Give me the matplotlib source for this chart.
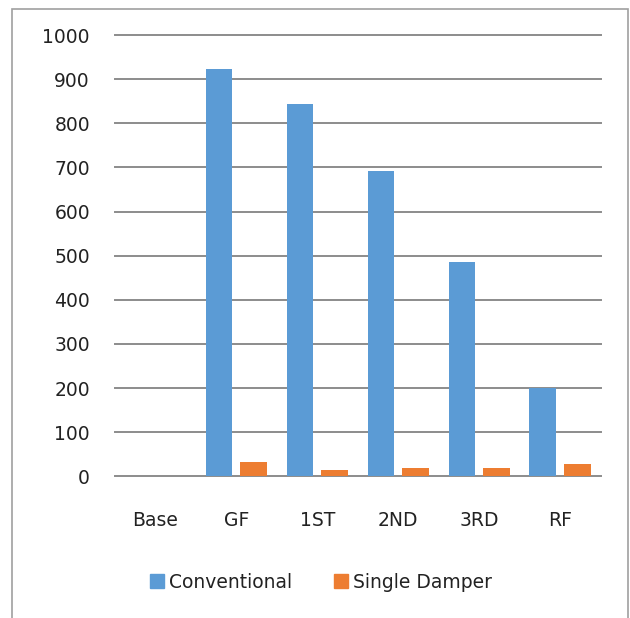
import numpy as np
import matplotlib.pyplot as plt
from matplotlib.patches import Rectangle, Patch

floors = ['Base', 'GF', '1ST', '2ND', '3RD', 'RF']
conventional = [0, 924, 843, 692, 485, 200]
single_damper = [0, 32, 15, 19, 19, 27]

blue = '#5B9BD5'
orange = '#ED7D31'
grid_col = '#8C8C8C'

plt.rcParams['font.family'] = 'DejaVu Sans'

fig = plt.figure(figsize=(6.3, 6.18), dpi=100)
ax = fig.add_axes([0.1825, 0.2293, 0.771, 0.714])

x = np.arange(len(floors))
w = 0.33
ax.bar(x - 0.215, conventional, w, color=blue, zorder=3)
ax.bar(x + 0.215, single_damper, w, color=orange, zorder=3)

ax.set_xlim(-0.5, len(floors) - 0.5)
ax.set_ylim(0, 1000)
ax.set_yticks(np.arange(0, 1001, 100))
ax.set_xticks(x)
ax.set_xticklabels(floors)
ax.yaxis.grid(True, color=grid_col, linewidth=1.4, zorder=0)
for gl in ax.get_ygridlines():
    gl.set_clip_on(False)
for s in ax.spines.values():
    s.set_visible(False)
ax.tick_params(axis='both', length=0, labelsize=13.5, colors='#222222')
ax.tick_params(axis='y', pad=18)
ax.tick_params(axis='x', pad=25)

# outer chart frame
fig.patches.append(Rectangle((12 / 630, -0.05), 616 / 630, 1 - 9 / 618 + 0.05,
                             transform=fig.transFigure, fill=False,
                             edgecolor='#A0A0A0', linewidth=1.2))

handles = [Patch(color=blue, label='Conventional'),
           Patch(color=orange, label='Single Damper')]
fig.legend(handles=handles, loc='center', bbox_to_anchor=(321 / 630, 1 - 582 / 618),
           ncol=2, frameon=False, fontsize=13.5, handlelength=0.75, handleheight=0.75,
           handletextpad=0.3, columnspacing=2.2, labelcolor='#222222')

fig.savefig('out.png', dpi=100)
